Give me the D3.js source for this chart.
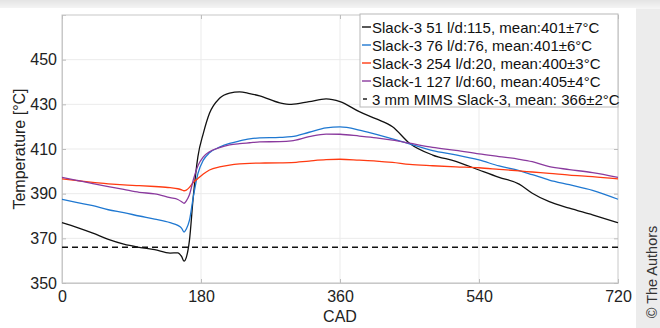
<!DOCTYPE html>
<html>
<head>
<meta charset="utf-8">
<script src="https://cdn.jsdelivr.net/npm/d3@7"></script>
<style>
  html, body { margin: 0; padding: 0; background: #ececec; }
  svg { display: block; font-family: "Liberation Sans", Arial, sans-serif; }
</style>
</head>
<body>
<svg id="chart" width="660" height="328"></svg>
<script>
// Crank angle (degrees) at which every series is sampled
const cad = [0, 20, 40, 60, 80, 100, 120, 140, 150, 155, 158, 161, 165, 170, 176, 183, 191, 204, 217, 230,
             243, 256, 282, 297, 320, 342, 360, 385, 407, 428, 450, 480, 510, 540, 566, 592, 609, 631, 657, 687, 720];

// Thermocouple temperatures (°C)
const slack3_51 = [377, 374.8, 372.3, 369.5, 367.4, 366, 364.9, 363.4, 363.5, 361.8, 359.8, 361.5, 369, 388.6, 406.6, 417, 426, 432.7, 435, 435.6,
                   434.8, 433.8, 430.7, 430, 431.2, 432.4, 431.2, 426.7, 423.5, 420, 412.6, 407.3, 404.5, 400.6, 397.3, 394.3, 390.2, 386.4, 383.5, 380.5, 377];
const slack3_76 = [387.5, 386, 384.6, 382.8, 381.5, 380, 378.6, 377, 375.8, 374.5, 372.8, 374.2, 378, 388.5, 399, 405, 408.3, 410.8, 412.5, 413.6,
                   414.5, 415, 415.2, 415.5, 417.5, 419.5, 419.9, 418.5, 416.5, 414.5, 412.3, 409.3, 407.4, 405.1, 402.4, 400.3, 398.5, 396.1, 394, 391.5, 387.5];
const slack3_254 = [396.6, 395.8, 395.1, 394.4, 393.9, 393.6, 393.2, 392.7, 392.2, 391.7, 391.3, 391.6, 392.8, 395, 396.8, 398.8, 400.6, 402, 402.8, 403.3,
                    403.6, 403.7, 403.8, 403.9, 404.6, 405.2, 405.4, 405, 404.6, 404, 403.1, 402.5, 402, 401.6, 400.9, 400.2, 399.7, 399.1, 398.3, 397.6, 396.6];
const slack1_127 = [397.3, 395.9, 394.5, 393.2, 391.9, 390.6, 389.9, 388.2, 387.4, 386.4, 385.7, 386.8, 389.5, 396.1, 402.5, 406.5, 408.8, 410.6, 411.8, 412.4,
                    412.8, 413.2, 413.3, 413.6, 415.5, 416.7, 416.6, 415.8, 415, 414, 412.6, 410.7, 409.4, 407.8, 406.6, 405.4, 404.3, 402.1, 400.8, 399.4, 397.3];
// Mean reading of the 3 mm MIMS sensor
const mimsMean = 366;

const seriesNames = [
  "Slack-3 51 l/d:115, mean:401\u00B17\u00B0C",
  "Slack-3 76 l/d:76, mean:401\u00B16\u00B0C",
  "Slack-3 254 l/d:20, mean:400\u00B13\u00B0C",
  "Slack-1 127 l/d:60, mean:405\u00B14\u00B0C",
  "3 mm MIMS Slack-3, mean: 366\u00B12\u00B0C"
];
const seriesColors = ["#111111", "#1f78d1", "#ff3b12", "#8a3a9e", "#111111"];

const xTicks = [0, 180, 360, 540, 720];
const yTicks = [350, 370, 390, 410, 430, 450];

const svg = d3.select("#chart");

// card background with soft top shadow
const defs = svg.append("defs");
const sh = defs.append("linearGradient").attr("id", "topShade").attr("x1", 0).attr("x2", 0).attr("y1", 0).attr("y2", 1);
sh.append("stop").attr("offset", "0%").attr("stop-color", "#e4e4e4");
sh.append("stop").attr("offset", "100%").attr("stop-color", "#f6f6f6");
svg.append("rect").attr("x", 0).attr("y", 0).attr("width", 660).attr("height", 9).attr("fill", "url(#topShade)");
svg.append("rect").attr("x", 0).attr("y", 8).attr("width", 636).attr("height", 320).attr("fill", "#ffffff");

const pLeft = 62, pRight = 618, pTop = 15, pBottom = 283;
const x = d3.scaleLinear().domain([0, 720]).range([pLeft, pRight]);
const y = d3.scaleLinear().domain([350, 470]).range([pBottom, pTop]);

// grid
const grid = svg.append("g");
grid.selectAll("line.gy").data(yTicks).join("line")
  .attr("x1", pLeft).attr("x2", pRight).attr("y1", d => y(d)).attr("y2", d => y(d))
  .attr("stroke", "#ebebeb").attr("stroke-width", 1);
grid.selectAll("line.gx").data(xTicks.slice(1, -1)).join("line")
  .attr("y1", pTop).attr("y2", pBottom).attr("x1", d => x(d)).attr("x2", d => x(d))
  .attr("stroke", "#ebebeb").attr("stroke-width", 1);

// axes box
svg.append("rect").attr("x", pLeft).attr("y", pTop).attr("width", pRight - pLeft).attr("height", pBottom - pTop)
  .attr("fill", "none").attr("stroke", "#c8c8c8").attr("stroke-width", 1);

// axes with inward ticks
const xAxis = svg.append("g").attr("transform", `translate(0,${pBottom})`)
  .call(d3.axisBottom(x).tickValues(xTicks).tickSize(-4).tickPadding(8));
const yAxis = svg.append("g").attr("transform", `translate(${pLeft},0)`)
  .call(d3.axisLeft(y).tickValues(yTicks).tickSize(-4).tickPadding(5));
svg.append("g").attr("transform", `translate(${pRight},0)`)
  .call(d3.axisRight(y).tickValues(yTicks).tickSize(-4).tickFormat(""))
  .call(g => g.select(".domain").remove());
svg.append("g").attr("transform", `translate(0,${pTop})`)
  .call(d3.axisTop(x).tickValues(xTicks).tickSize(-4).tickFormat(""))
  .call(g => g.select(".domain").remove());
svg.selectAll(".domain").attr("stroke", "#c8c8c8");
svg.selectAll(".tick line").attr("stroke", "#bdbdbd");
[xAxis, yAxis].forEach(a => a.selectAll("text")
  .attr("font-size", 16).attr("fill", "#222").attr("font-family", "Liberation Sans, Arial, sans-serif"));

// axis titles
svg.append("text").attr("x", x(360)).attr("y", 322).attr("text-anchor", "middle")
  .attr("font-size", 16).attr("fill", "#222").text("CAD");
svg.append("text").attr("transform", `translate(25,${(pTop + pBottom) / 2}) rotate(-90)`)
  .attr("text-anchor", "middle").attr("font-size", 16).attr("fill", "#222").text("Temperature [\u00B0C]");

// data lines
const plot = svg.append("g");
const line = d3.line().x(d => x(d[0])).y(d => y(d[1])).curve(d3.curveMonotoneX);
const seriesData = [slack3_51, slack3_76, slack3_254, slack1_127];
seriesData.forEach((vals, i) => {
  plot.append("path").datum(cad.map((c, k) => [c, vals[k]]))
    .attr("d", line).attr("fill", "none")
    .attr("stroke", seriesColors[i]).attr("stroke-width", 1.3);
});
plot.append("line").attr("x1", x(0)).attr("x2", x(720)).attr("y1", y(mimsMean)).attr("y2", y(mimsMean))
  .attr("stroke", seriesColors[4]).attr("stroke-width", 1.4).attr("stroke-dasharray", "6,4");

// legend
const lg = svg.append("g");
lg.append("rect").attr("x", 360).attr("y", 14).attr("width", 258).attr("height", 93)
  .attr("fill", "#ffffff").attr("stroke", "#b8b8b8").attr("stroke-width", 1);
seriesNames.forEach((name, i) => {
  const cy = 27 + i * 18;
  if (i < 4) {
    lg.append("line").attr("x1", 362).attr("x2", 371).attr("y1", cy).attr("y2", cy)
      .attr("stroke", seriesColors[i]).attr("stroke-width", 1.4);
  } else {
    lg.append("line").attr("x1", 363).attr("x2", 367).attr("y1", cy).attr("y2", cy)
      .attr("stroke", seriesColors[i]).attr("stroke-width", 1.4);
  }
  lg.append("text").attr("x", 372).attr("y", cy + 5.5).attr("font-size", 15).attr("fill", "#111").text(name);
});

// credit line
svg.append("text").attr("transform", "translate(657,272) rotate(-90)")
  .attr("text-anchor", "middle").attr("font-size", 14.5).attr("fill", "#333")
  .attr("font-family", "Liberation Sans, Arial, sans-serif").text("\u00A9 The Authors");
</script>
</body>
</html>
